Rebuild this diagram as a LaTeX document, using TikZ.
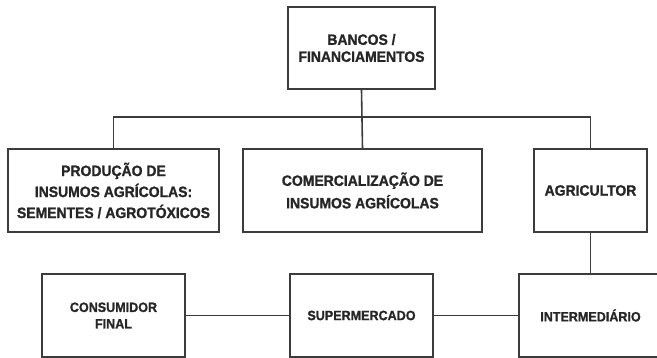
\documentclass[tikz,border=0pt]{standalone}
\usepackage{fontspec}
\setmainfont[FakeStretch=0.93, BoldFeatures={FakeBold=1.2}]{Liberation Sans}
\definecolor{ink}{HTML}{262626}
\definecolor{edge}{HTML}{3C3C3C}
\begin{document}
\begin{tikzpicture}[x=1pt,y=-1pt,
  box/.style={draw=edge, line width=1.6pt, rectangle, inner sep=0pt, align=center,
    text=ink, font=\bfseries\fontsize{15}{21}\selectfont},
  smallbox/.style={box, font=\bfseries\fontsize{13.5}{16.5}\selectfont},
  conn/.style={draw=edge, line width=1.6pt}]
\useasboundingbox (0,0) rectangle (657,358);
\node[box, minimum width=147, minimum height=82, font=\bfseries\fontsize{15}{17}\selectfont] (bancos) at (361.5,48) {BANCOS /\\FINANCIAMENTOS};
\node[box, minimum width=211, minimum height=83] (prod) at (113.5,190.5) {PRODUÇÃO DE\\INSUMOS AGRÍCOLAS:\\SEMENTES / AGROTÓXICOS};
\node[box, minimum width=239, minimum height=83, font=\bfseries\fontsize{15}{22.5}\selectfont] (comerc) at (362.5,190.5) {COMERCIALIZAÇÃO DE\\INSUMOS AGRÍCOLAS};
\node[box, minimum width=113, minimum height=83] (agric) at (590.5,190.5) {AGRICULTOR};
\node[smallbox, minimum width=143, minimum height=83] (consum) at (113.5,315.5) {CONSUMIDOR\\FINAL};
\node[smallbox, minimum width=143, minimum height=83] (superm) at (361.5,315.5) {SUPERMERCADO};
\node[smallbox, minimum width=143, minimum height=83] (interm) at (590.5,315.5) {INTERMEDIÁRIO};
\coordinate (bus) at (361.5,117);
\draw[conn] (prod.north) |- (bus) -| (agric.north);
\draw[conn] (bancos.south) -- (comerc.north);
\draw[conn] (agric.south) -- (interm.north);
\draw[conn] (consum.east) -- (superm.west);
\draw[conn] (superm.east) -- (interm.west);
\end{tikzpicture}
\end{document}
